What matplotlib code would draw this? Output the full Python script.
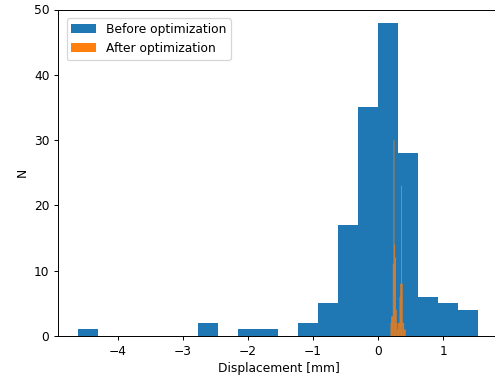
import matplotlib
matplotlib.use("Agg")
import matplotlib.pyplot as plt
import numpy as np

# before optimization: 20 bins
before_lo, before_hi = -4.61, 1.53
before_counts = [1, 0, 0, 0, 0, 0, 2, 0, 1, 1, 0, 2, 5, 17, 35, 48, 28, 6, 5, 4]

# after optimization: 20 narrow bins
after_lo, after_hi = 0.19, 0.42
after_counts = [2, 3, 3, 11, 30, 14, 12, 4, 2, 1, 2, 2, 6, 8, 23, 8, 2, 2, 1, 1]

before_edges = np.linspace(before_lo, before_hi, len(before_counts) + 1)
after_edges = np.linspace(after_lo, after_hi, len(after_counts) + 1)

dpi = 88
fig = plt.figure(figsize=(495/dpi, 383/dpi), dpi=dpi)
ax = fig.add_axes([58/495, 47/383, 442/495, 326.5/383])

ax.hist(before_edges[:-1], bins=before_edges, weights=before_counts, label="Before optimization")
_, _, after_patches = ax.hist(after_edges[:-1], bins=after_edges, weights=after_counts,
                              label="After optimization")
# thin bars: let them antialias instead of snapping away
for p in after_patches:
    p.set_snap(False)

ax.set_xlim(-4.917, 1.87)
ax.set_ylim(0, 50)
ax.set_xlabel("Displacement [mm]")
ax.set_ylabel("N")
ax.legend(loc="upper left", borderaxespad=0.7)

fig.savefig("out.png", dpi=dpi)
